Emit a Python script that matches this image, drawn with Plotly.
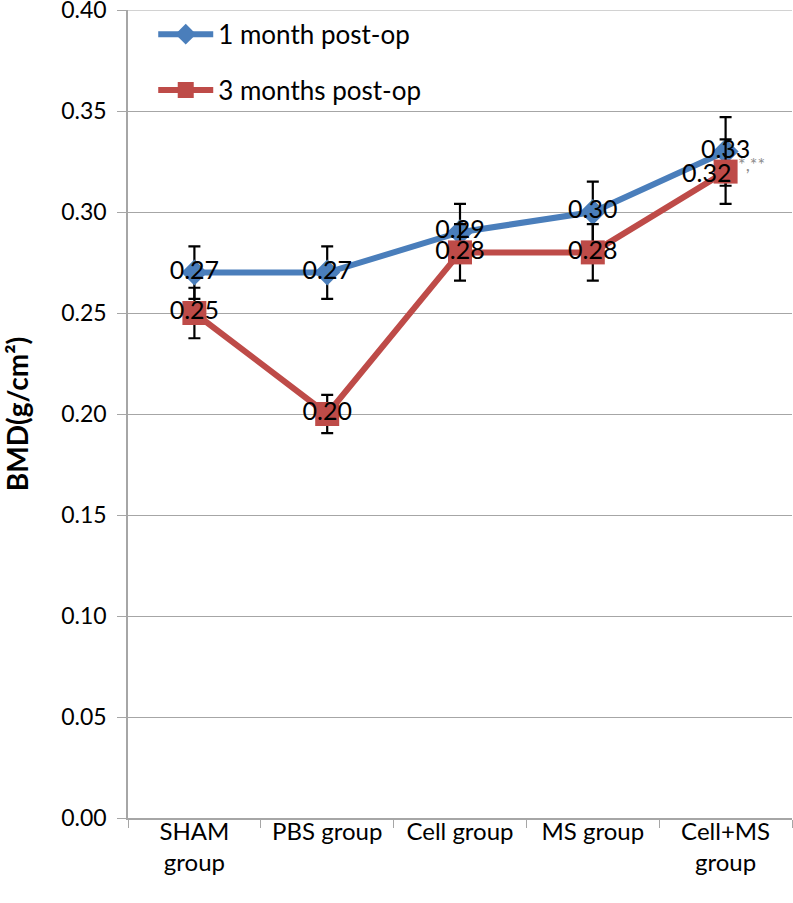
import plotly.graph_objects as go

categories = ["SHAM<br>group", "PBS group", "Cell group", "MS group", "Cell+MS<br>group"]
one_month = [0.27, 0.27, 0.29, 0.30, 0.33]
one_month_err = [0.013, 0.013, 0.014, 0.015, 0.017]
three_months = [0.25, 0.20, 0.28, 0.28, 0.32]
three_months_err = [0.0125, 0.0095, 0.014, 0.014, 0.016]
y_ticks = [0.00, 0.05, 0.10, 0.15, 0.20, 0.25, 0.30, 0.35, 0.40]

FONT = "Lato, Carlito, 'Open Sans', sans-serif"
BLUE = "#4a7ebb"
RED = "#be4b48"
GRID = "#a6a6a6"

fig = go.Figure()

fig.add_trace(go.Scatter(
    x=categories, y=one_month, name="1 month post-op", legendgroup="a",
    mode="lines+markers+text",
    line=dict(color=BLUE, width=6),
    marker=dict(symbol="diamond", size=20, color=BLUE),
    text=[f"{v:.2f}" for v in one_month], textposition="middle center",
    textfont=dict(family=FONT, size=25, color="black"),
    error_y=dict(type="data", array=one_month_err, color="black", thickness=2.2, width=6),
))

red_text = [f"{v:.2f}" for v in three_months]
red_text[-1] = ""
fig.add_trace(go.Scatter(
    x=categories, y=three_months, name="3 months post-op", legendgroup="b",
    mode="lines+markers+text",
    line=dict(color=RED, width=6),
    marker=dict(symbol="square", size=24, color=RED),
    text=red_text, textposition="middle center",
    textfont=dict(family=FONT, size=25, color="black"),
    error_y=dict(type="data", array=three_months_err, color="black", thickness=2.2, width=6),
))

# shifted label for last red point and significance mark
fig.add_annotation(x=categories[-1], y=three_months[-1], text=f"{three_months[-1]:.2f}",
                   showarrow=False, xshift=-19, font=dict(family=FONT, size=25, color="black"))
fig.add_annotation(x=categories[-1], y=three_months[-1], text="*,**",
                   showarrow=False, xanchor="left", xshift=10, yshift=8,
                   font=dict(family=FONT, size=18, color="#8c8c8c"))

# top gridline (Plotly skips gridlines at the plot edge)
fig.add_shape(type="line", xref="paper", x0=0, x1=1, yref="y", y0=y_ticks[-1], y1=y_ticks[-1],
              line=dict(color=GRID, width=1.2), layer="below")

fig.update_layout(
    width=793, height=903,
    margin=dict(l=128, r=1, t=10, b=85),
    paper_bgcolor="white", plot_bgcolor="white",
    font=dict(family=FONT, size=23, color="black"),
    showlegend=True,
    legend=dict(x=0.038, y=0.999, xanchor="left", yanchor="top",
                traceorder="grouped", tracegroupgap=19, itemwidth=55,
                font=dict(family=FONT, size=26, color="black"),
                bgcolor="rgba(0,0,0,0)"),
)

fig.update_xaxes(
    type="category", range=[-0.5, 4.5], automargin=False,
    showline=True, linecolor=GRID, linewidth=1.5,
    ticks="outside", tickson="boundaries", ticklen=8, tickcolor=GRID,
    ticklabelstandoff=-9,
    showgrid=False, tickfont=dict(family=FONT, size=24, color="black"),
)
fig.update_yaxes(
    range=[0, 0.4], tickvals=y_ticks, tickformat=".2f", automargin=False,
    showline=True, linecolor=GRID, linewidth=1.5,
    ticks="outside", ticklen=9, tickcolor=GRID, ticklabelstandoff=6,
    ticklabeloverflow="allow",
    showgrid=True, gridcolor=GRID, gridwidth=1.2, zeroline=False,
    tickfont=dict(family=FONT, size=23, color="black"),
    title=dict(text="<b>BMD(g/cm²)</b>", font=dict(family=FONT, size=28, color="black"), standoff=30),
)

fig.write_html("out.html", config={"displayModeBar": False})

with open("out.html", "r", encoding="utf-8") as f:
    html = f.read()
html = html.replace("<head>", "<head><style>html,body{margin:0;padding:0;overflow:hidden;}</style>", 1)
with open("out.html", "w", encoding="utf-8") as f:
    f.write(html)
